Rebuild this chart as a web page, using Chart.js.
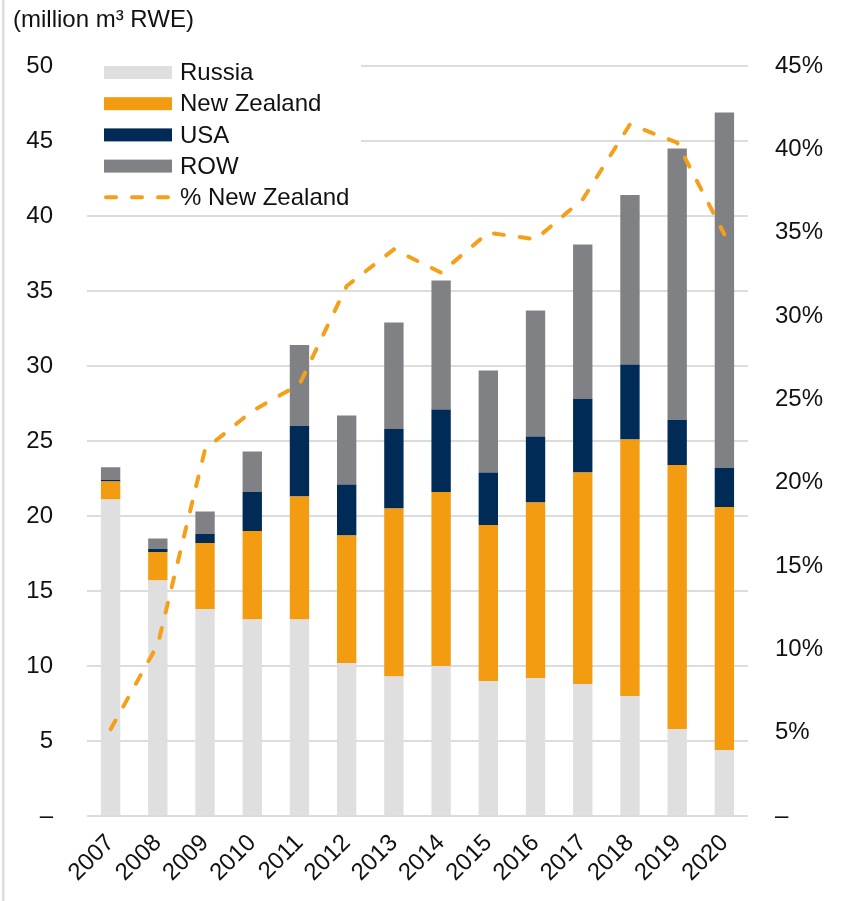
<!DOCTYPE html>
<html>
<head>
<meta charset="utf-8">
<script src="https://cdn.jsdelivr.net/npm/chart.js@4/dist/chart.umd.min.js"></script>
<style>
  html,body{margin:0;padding:0;background:#fff;}
  #wrap{position:relative;width:844px;height:901px;}
</style>
</head>
<body>
<div id="wrap"><canvas id="c" width="844" height="901"></canvas></div>
<script>
// ====== Data ======
const years      = ['2007','2008','2009','2010','2011','2012','2013','2014','2015','2016','2017','2018','2019','2020'];
const russia     = [21.1, 15.7, 13.8, 13.1, 13.1, 10.2, 9.3, 10.0, 9.0, 9.2, 8.8, 8.0, 5.8, 4.4];
const newZealand = [1.2, 1.9, 4.4, 5.9, 8.2, 8.5, 11.2, 11.6, 10.4, 11.7, 14.1, 17.1, 17.6, 16.2];
const usa        = [0.1, 0.2, 0.6, 2.6, 4.7, 3.4, 5.3, 5.5, 3.5, 4.4, 4.9, 5.0, 3.0, 2.6];
const row        = [0.85, 0.7, 1.5, 2.7, 5.4, 4.6, 7.1, 8.6, 6.8, 8.4, 10.3, 11.3, 18.1, 23.7];
const pctNZ      = [5.2, 10.3, 22.0, 24.3, 25.9, 31.8, 34.0, 32.6, 35.0, 34.6, 37.0, 41.5, 40.4, 34.9];
const leftTicks  = [0, 5, 10, 15, 20, 25, 30, 35, 40, 45, 50];
const rightTicks = [0, 5, 10, 15, 20, 25, 30, 35, 40, 45];

// ====== Styles ======
const FONT = "'Liberation Sans', Arial, sans-serif";
const C = { russia:'#dfdfdf', nz:'#f39c12', usa:'#002b57', row:'#808184', line:'#f5a01a', grid:'#dcdcdc', text:'#111' };
Chart.defaults.font.family = FONT;
Chart.defaults.font.size = 24;
Chart.defaults.color = C.text;

const dash = [10, 16];

// legend + title + frame drawn by hand (legend sits inside the plot on a white box)
const extras = {
  id:'extras',
  beforeDatasetsDraw(chart){
    const ctx = chart.ctx;
    ctx.save();
    ctx.fillStyle = '#fff';
    ctx.fillRect(chart.chartArea.left, 52, 274, 158);
    let y = 72.5;
    chart.data.datasets.slice().sort((a,b)=>a.legendOrder-b.legendOrder).forEach(ds=>{
      if(ds.type==='line'){
        ctx.strokeStyle = ds.borderColor; ctx.lineWidth = ds.borderWidth;
        ctx.setLineDash(dash); ctx.lineCap = 'round';
        ctx.beginPath(); ctx.moveTo(106, y); ctx.lineTo(172, y); ctx.stroke();
        ctx.setLineDash([]);
      } else {
        ctx.fillStyle = ds.backgroundColor;
        ctx.fillRect(104, y-6.5, 68, 13);
      }
      ctx.fillStyle = C.text; ctx.font = '24px ' + FONT;
      ctx.textAlign = 'left'; ctx.textBaseline = 'middle';
      ctx.fillText(ds.label, 180, y+1);
      y += 31.2;
    });
    ctx.restore();
  },
  afterDraw(chart){
    const ctx = chart.ctx;
    ctx.save();
    ctx.fillStyle = '#dedede';
    ctx.fillRect(2, 0, 2.5, chart.height);
    ctx.fillStyle = C.text; ctx.font = '24px ' + FONT;
    ctx.textAlign = 'left'; ctx.textBaseline = 'middle';
    ctx.fillText('(million m³ RWE)', 13, 20);
    ctx.restore();
  }
};

const bar = (label, data, color, o) => ({ type:'bar', label, data, backgroundColor:color, borderWidth:0,
  yAxisID:'y', stack:'s', barPercentage:0.41, categoryPercentage:1, order:2, legendOrder:o });

new Chart(document.getElementById('c'), {
  data:{
    labels: years,
    datasets:[
      bar('Russia', russia, C.russia, 0),
      bar('New Zealand', newZealand, C.nz, 1),
      bar('USA', usa, C.usa, 2),
      bar('ROW', row, C.row, 3),
      { type:'line', label:'% New Zealand', data:pctNZ, yAxisID:'y1', borderColor:C.line, borderWidth:4,
        borderDash:dash, borderCapStyle:'round', pointRadius:0, tension:0, fill:false, order:0, legendOrder:4 }
    ]
  },
  options:{
    responsive:false, animation:false, devicePixelRatio:1,
    layout:{ padding:{ top:66, left:0, right:0, bottom:0 } },
    plugins:{ legend:{display:false}, tooltip:{enabled:false}, title:{display:false} },
    scales:{
      x:{ stacked:true, grid:{display:false}, border:{display:false},
          ticks:{ minRotation:45, maxRotation:45, padding:5 },
          afterFit(s){ s.height = 85; } },
      y:{ position:'left', stacked:true, min:0, max:50,
          grid:{ color:C.grid, lineWidth:2, drawTicks:false }, border:{display:false},
          afterBuildTicks(s){ s.ticks = leftTicks.map(v=>({value:v})); },
          ticks:{ padding:34, callback:v=> v===0 ? '–' : v },
          afterFit(s){ s.width = 87; } },
      y1:{ position:'right', min:0, max:45,
          grid:{ drawOnChartArea:false, drawTicks:false }, border:{display:false},
          afterBuildTicks(s){ s.ticks = rightTicks.map(v=>({value:v})); },
          ticks:{ padding:27, callback:v=> v===0 ? '–' : v + '%' },
          afterFit(s){ s.width = 96; } }
    }
  },
  plugins:[extras]
});
</script>
</body>
</html>
